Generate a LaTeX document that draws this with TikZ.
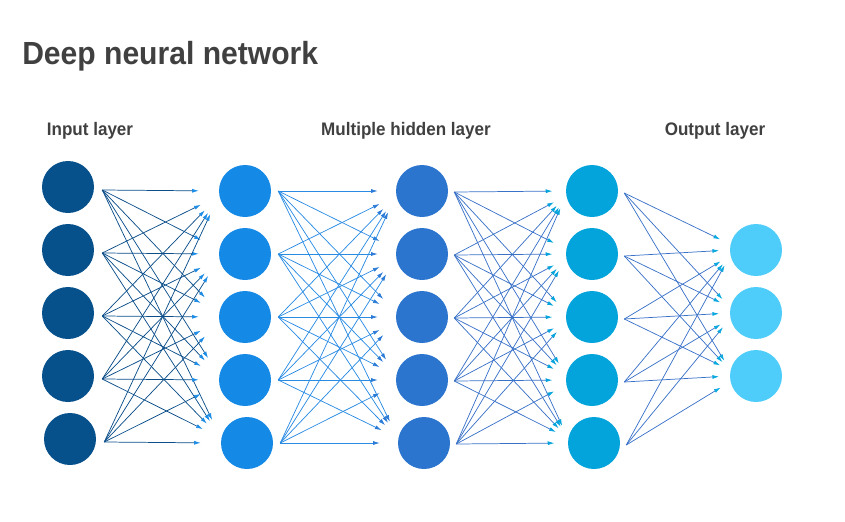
\documentclass[tikz,border=0pt]{standalone}
\usepackage{fontspec}
\setmainfont[FakeStretch=0.94]{Liberation Sans}
\usetikzlibrary{arrows.meta,calc}
\definecolor{txtgray}{HTML}{404040}
\definecolor{cA}{HTML}{06508B}
\definecolor{cB}{HTML}{1589E6}
\definecolor{cC}{HTML}{2C75CF}
\definecolor{cD}{HTML}{03A4DB}
\definecolor{cE}{HTML}{4FCDFA}
\definecolor{lineA}{HTML}{0B4E8A}
\definecolor{headA}{HTML}{1E8DE6}
\definecolor{lineB}{HTML}{2A8BE3}
\definecolor{headB}{HTML}{2A7AD6}
\definecolor{lineC}{HTML}{3A72C8}
\definecolor{headC}{HTML}{05A3DC}
\definecolor{lineD}{HTML}{3A72C8}
\definecolor{headD}{HTML}{0AA8DF}
\begin{document}
\begin{tikzpicture}[x=0.75pt,y=-0.75pt,
  neuron/.style={circle,minimum size=39pt,inner sep=0pt,draw=none},
  conn/.style={line width=0.55pt},
  linkA/.style={conn,draw=lineA,shorten >=15pt,-{Latex[length=5pt,width=3pt,color=headA]}},
  linkB/.style={conn,draw=lineB,shorten >=13.5pt,-{Latex[length=5pt,width=3pt,color=headB]}},
  linkC/.style={conn,draw=lineC,shorten >=10pt,-{Latex[length=5pt,width=3pt,color=headC]}},
  linkD/.style={conn,draw=lineD,shorten >=8pt,-{Latex[length=5pt,width=3pt,color=headD]}},
  layerlabel/.style={font=\bfseries\fontsize{13.6}{16}\selectfont,text=txtgray}]
\useasboundingbox (0,0) rectangle (845,521);
\node[anchor=base west,inner sep=0pt,font=\bfseries\fontsize{24}{28}\selectfont,text=txtgray] (title) at (22,64) {Deep neural network};
\node[layerlabel] (lin) at (90,131) {Input layer};
\node[layerlabel] (lhid) at (406,131) {Multiple hidden layer};
\node[layerlabel] (lout) at (715,131) {Output layer};
% layers
\foreach \x/\y [count=\i] in {68/187,68/250,68/313,68/376,70/439}
  \node[neuron,fill=cA] (a\i) at (\x,\y) {};
\foreach \x/\y [count=\i] in {245/191,245/254,245/317,245/380,247/443}
  \node[neuron,fill=cB] (b\i) at (\x,\y) {};
\foreach \x/\y [count=\i] in {422/191,422/254,422/317,422/380,424/443}
  \node[neuron,fill=cC] (c\i) at (\x,\y) {};
\foreach \x/\y [count=\i] in {592/191,592/254,592/317,592/380,594/443}
  \node[neuron,fill=cD] (d\i) at (\x,\y) {};
\foreach \y [count=\i] in {250,313,376}
  \node[neuron,fill=cE] (e\i) at (756,\y) {};
% connections
\foreach \i in {1,...,5}{
  \foreach \j in {1,...,5}{
    \pgfmathsetmacro{\s}{5*sign(\i-\j)}
    \draw[linkA] ($(a\i.east)+(8,3)$) -- ($(b\j.west)+(0,\s)$);
    \draw[linkB] ($(b\i.east)+(7,0)$) -- ($(c\j.west)+(0,\s)$);
    \draw[linkC] ($(c\i.east)+(6,1)$) -- ($(d\j.west)+(0,\s)$);
  }
  \foreach \j/\k in {1/2,2/3,3/4}{
    \pgfmathsetmacro{\s}{6*sign(\i-\k)}
    \draw[linkD] ($(d\i.east)+(6,2)$) -- ($(e\j.west)+(0,\s)$);
  }
}
\end{tikzpicture}
\end{document}
